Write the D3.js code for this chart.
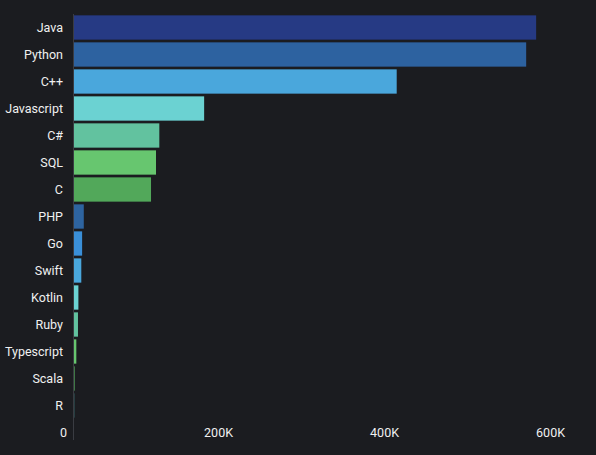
<!DOCTYPE html>
<html>
<head>
<meta charset="UTF-8">
<script src="https://d3js.org/d3.v7.min.js"></script>
<style>
  body { margin: 0; background: #1b1c20; }
  text { font-family: Roboto, sans-serif; }
</style>
</head>
<body>
<script>
var languages = ["Java", "Python", "C++", "Javascript", "C#", "SQL", "C", "PHP", "Go", "Swift", "Kotlin", "Ruby", "Typescript", "Scala", "R"];
var counts = [558000, 546000, 390000, 158000, 104000, 100000, 94000, 13000, 11000, 10000, 6500, 6000, 4000, 2000, 1500];
var colors = ["#263a84", "#2d62a0", "#4aa7dc", "#6bd2d2", "#62c29f", "#67c66f", "#52a85a", "#2e64a0", "#3a8fd8", "#4aa7dc", "#6bd2d2", "#62c29f", "#67c66f", "#52a85a", "#4ba3a3"];
var tickValues = [0, 200000, 400000, 600000];

var w = 596, h = 455;
var svg = d3.select("body").append("svg").attr("width", w).attr("height", h);

var xScale = d3.scaleLinear().domain([0, 600000]).range([73, 571]);
var yScale = d3.scaleBand().domain(languages).range([14, 419]).paddingInner(0.1).paddingOuter(0.05);

// bars
svg.selectAll("rect")
    .data(languages)
    .enter()
    .append("rect")
    .attr("x", xScale(0))
    .attr("y", function(d) { return yScale(d); })
    .attr("width", function(d, i) { return xScale(counts[i]) - xScale(0); })
    .attr("height", yScale.bandwidth())
    .attr("fill", function(d, i) { return colors[i]; });

// category labels
svg.selectAll(".cat")
    .data(languages)
    .enter()
    .append("text")
    .attr("class", "cat")
    .text(function(d) { return d; })
    .attr("x", 63)
    .attr("y", function(d) { return yScale(d) + yScale.bandwidth() / 2; })
    .attr("dy", "0.35em")
    .attr("text-anchor", "end")
    .attr("fill", "#f0f0f0")
    .attr("font-size", 12.5);

// axis line
svg.append("line")
    .attr("x1", 73.5).attr("x2", 73.5)
    .attr("y1", 14).attr("y2", 440)
    .attr("stroke", "#3a3c42");

// x tick labels
svg.selectAll(".tick")
    .data(tickValues)
    .enter()
    .append("text")
    .attr("class", "tick")
    .text(function(d) { return d === 0 ? "0" : d / 1000 + "K"; })
    .attr("x", function(d) { return xScale(d) - 6; })
    .attr("y", 433)
    .attr("dy", "0.35em")
    .attr("text-anchor", "end")
    .attr("fill", "#f0f0f0")
    .attr("font-size", 12.5);
</script>
</body>
</html>
